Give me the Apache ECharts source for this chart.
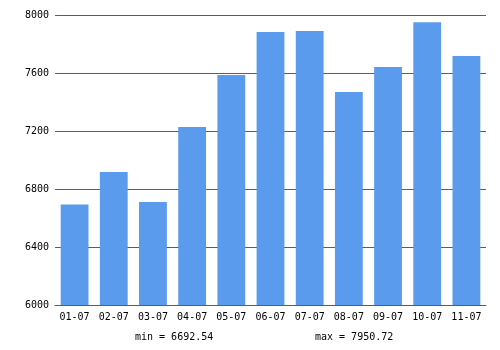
<!DOCTYPE html>
<html>
<head>
<meta charset="utf-8">
<script src="https://cdn.jsdelivr.net/npm/echarts@6/dist/echarts.min.js"></script>
<style>html,body{margin:0;padding:0;background:#fff;}#c{width:500px;height:350px;}</style>
</head>
<body>
<div id="c"></div>
<script>
const categories = ['01-07','02-07','03-07','04-07','05-07','06-07','07-07','08-07','09-07','10-07','11-07'];
const values = [6692.54, 6917, 6710, 7228, 7586, 7883, 7890, 7469, 7641, 7950.72, 7717];
const yTicks = [6000, 6400, 6800, 7200, 7600, 8000];
const minText = 'min = 6692.54';
const maxText = 'max = 7950.72';

const font = '"DejaVu Sans Mono", monospace';
const chart = echarts.init(document.getElementById('c'), null, {renderer: 'canvas'});
chart.setOption({
  animation: false,
  backgroundColor: '#ffffff',
  grid: {left: 55, right: 14, top: 15, bottom: 45, containLabel: false},
  xAxis: {
    type: 'category',
    data: categories,
    axisLine: {show: true, lineStyle: {color: '#336699', width: 1}},
    axisTick: {show: false},
    axisLabel: {color: '#000', fontFamily: font, fontSize: 10, margin: 7, interval: 0}
  },
  yAxis: {
    type: 'value',
    min: yTicks[0],
    max: yTicks[yTicks.length - 1],
    interval: 400,
    axisLine: {show: false},
    axisTick: {show: false},
    axisLabel: {color: '#000', fontFamily: font, fontSize: 10, margin: 6, formatter: v => String(v)},
    splitLine: {show: true, lineStyle: {color: '#336699', width: 1}}
  },
  series: [{
    type: 'bar',
    data: values,
    barCategoryGap: '29%',
    itemStyle: {color: '#5a9bee'}
  }],
  graphic: [
    {type: 'text', left: 135, top: 332, style: {text: minText, font: '10px ' + font, fill: '#000'}},
    {type: 'text', left: 315, top: 332, style: {text: maxText, font: '10px ' + font, fill: '#000'}}
  ]
});
</script>
</body>
</html>
